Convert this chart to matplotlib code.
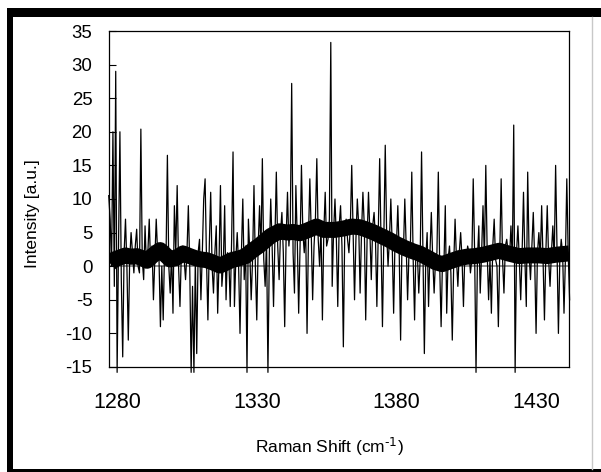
import matplotlib.pyplot as plt
from matplotlib.patches import Rectangle

plt.rcParams['font.family'] = ['Liberation Sans', 'DejaVu Sans']
plt.rcParams['axes.unicode_minus'] = False
plt.rcParams['mathtext.default'] = 'regular'

# raw spectrum, 0.5 cm-1 steps from 1277 to 1442 (one row = 5 cm-1)
shift_start = 1277.0
shift_step = 0.5
raw_intensity = [
    10.5, 7, 0, 20, -3, 29, -15.8, 3, 20, -2,
    -13.5, 2, 7, 0, -11, 1, 5, 2, -1, 3,
    5.5, 0, -1, 20.4, 1, -2, 6, 0, 2, 7,
    0, 3, -5, 1, 7, 2, 1, -9, 0, -8,
    3, 1, 16.5, 0, -4, 2, -7, 9, 2, 12,
    0, -6, 2, 3, 1, -2, 2, 9, 0, -15.8,
    -3, -15.8, 1, -13, 2, 4, -5, 2, 10, 13,
    1, -8, 3, 11, 0, -4, 2, 6, -7, 1,
    12, -3, 0, 9, -5, 2, 1, -6, 4, 17,
    -6, 1, 5, 0, -10, 2, 10, -2, 3, -15.8,
    7, 2, -5, 1, 12, 0, -8, 3, 9, 2,
    16, 1, -3, 4, -15.8, 2, 10, 3, -6, 4,
    14, 3, -2, 5, 8, 2, -9, 4, 11, 3,
    6, 27.2, 2, -4, 12, 4, -7, 3, 15, 5,
    2, 6, -10, 4, 13, 5, -5, 3, 7, 16,
    4, 0, 6, -8, 5, 11, 3, 4, 7, 33.3,
    -3, 5, 10, 4, -6, 6, 9, 3, -12, 5,
    7, 4, 2, 6, 15, 5, -5, 4, 10, 6,
    -4, 5, 11, 6, -8, 4, 11, 5, -2, 6,
    8, 4, -6, 5, 16, 3, -9, 4, 18, 5,
    0, 4, 10, 3, -7, 4, 3, 9, 2, -11,
    4, 2, 10, 3, -5, 2, 3, 14, 1, -8,
    3, 2, -4, 1, 17, 2, -13, 1, 5, -6,
    2, 8, 1, -4, 1, 2, 14, 0, -9, 1,
    0, 9, -7, 1, 3, -1, -11, 0, 7, 1,
    -3, 2, 5, 1, -6, 2, 1, 3, 2, -1,
    1, 13, 2, -15.8, 1, 6, -4, 2, 9, 1,
    15, 2, -5, 1, -7, 3, 7, 1, 0, -9,
    2, 13, 1, -4, 3, 4, 2, 1, 6, 1,
    21, -15.8, 2, 6, 1, -5, 2, 11, 1, -6,
    14, 2, -2, 3, 8, 1, -10, 2, 5, 1,
    9, 1, -8, 2, 9, 1, -3, 2, 6, 1,
    15, 2, -10, 1, 4, 2, -7, 1, 13, 2,
    -5,
]
raw_shift = [shift_start + shift_step * i for i in range(len(raw_intensity))]

# smoothed spectrum (thick line)
smooth_shift = [1277.5, 1279, 1281, 1283, 1285, 1287, 1289, 1290.7, 1292.5, 1294,
                1295.4, 1297, 1299, 1301, 1303.6, 1306, 1308, 1310, 1312, 1314,
                1316.8, 1319, 1321, 1323.9, 1326, 1328, 1331, 1333, 1335, 1338.2,
                1341, 1343, 1345.4, 1348, 1351.4, 1354, 1357.9, 1361, 1364, 1366.8,
                1369, 1372, 1375, 1377.5, 1380, 1383, 1386, 1388.2, 1391, 1394,
                1396.4, 1399, 1402.5, 1405, 1408, 1411, 1414, 1416.8, 1420, 1423.9,
                1427, 1431, 1434, 1437, 1441.8]
smooth_intensity = [0.4, 1.0, 1.3, 1.6, 1.4, 1.5, 1.2, 0.8, 1.5, 2.0,
                    2.4, 1.8, 1.0, 1.2, 1.9, 1.5, 1.2, 1.0, 0.9, 0.6,
                    0.1, 0.5, 0.9, 1.2, 1.5, 2.2, 3.1, 3.8, 4.5, 5.2,
                    5.0, 5.1, 4.9, 5.3, 5.9, 5.4, 5.4, 5.6, 5.9, 5.8,
                    5.5, 5.0, 4.4, 3.9, 3.3, 2.7, 2.2, 1.9, 1.3, 0.6,
                    0.3, 0.7, 1.2, 1.4, 1.5, 1.7, 2.0, 2.3, 1.9, 1.5,
                    1.6, 1.6, 1.5, 1.7, 1.9]

x_ticks = [1280, 1330, 1380, 1430]
y_ticks = [-15, -10, -5, 0, 5, 10, 15, 20, 25, 30, 35]

fig = plt.figure(figsize=(6.01, 4.72), dpi=100)
ax = fig.add_axes([0.1814, 0.2225, 0.7654, 0.7118])

ax.axhline(0, color='#7f7f7f', lw=1.2, zorder=1)
ax.plot(raw_shift, raw_intensity, color='black', lw=0.9, zorder=2, clip_on=False)
ax.plot(smooth_shift, smooth_intensity, color='black', lw=11.5, zorder=3,
        solid_capstyle='butt', solid_joinstyle='round')

ax.set_xlim(1277.1, 1441.8)
ax.set_ylim(-15, 35)
ax.set_xticks(x_ticks)
ax.set_yticks(y_ticks)
ax.tick_params(axis='x', length=0, pad=18, labelsize=15.5)
ax.tick_params(axis='y', direction='in', length=5, pad=12, labelsize=13.4)
for s in ax.spines.values():
    s.set_linewidth(0.9)

ax.set_xlabel(r'Raman Shift (cm$^{\text{-1}}$)', fontsize=12.5)
ax.set_ylabel('Intensity [a.u.]', fontsize=12.5)
ax.xaxis.set_label_coords(0.48, -0.205)
ax.yaxis.set_label_coords(-0.15, 0.455)

# outer frame
fig.add_artist(Rectangle((7 / 601, 455 / 472), 1, 9 / 472, transform=fig.transFigure,
                         color='black', lw=0))
fig.add_artist(Rectangle((7 / 601, 0), 6 / 601, 464 / 472, transform=fig.transFigure,
                         color='black', lw=0))
fig.add_artist(Rectangle((7 / 601, 0), 1, 3 / 472, transform=fig.transFigure,
                         color='black', lw=0))
fig.add_artist(plt.Line2D([592 / 601, 592 / 601], [3 / 472, 455 / 472],
                          transform=fig.transFigure, color='#c8c8c8', lw=1))

fig.savefig('out.png', dpi=100)
